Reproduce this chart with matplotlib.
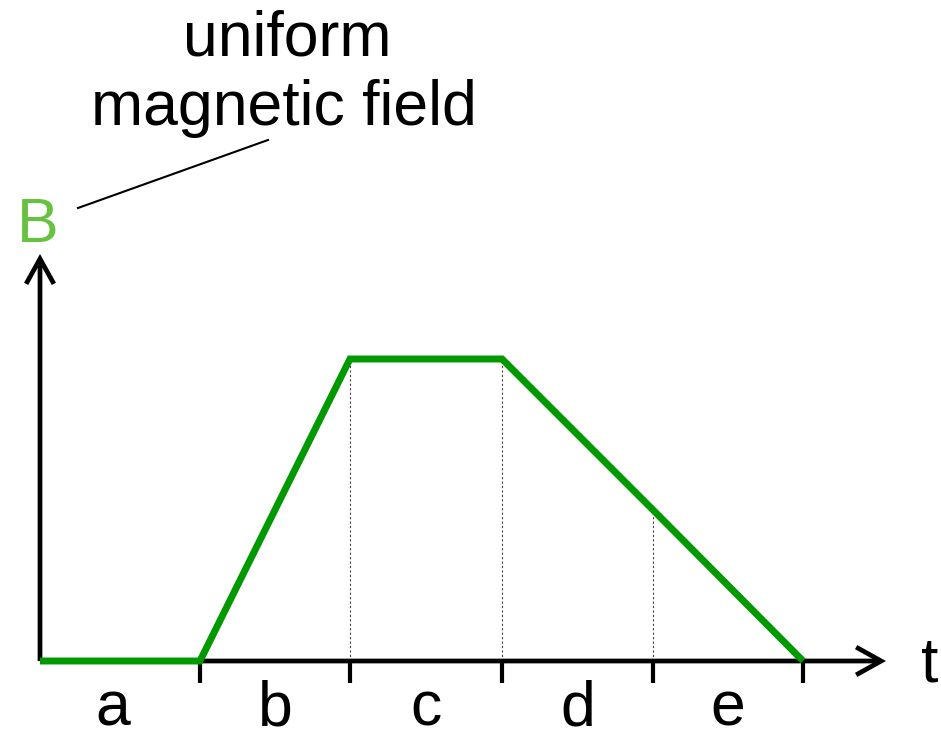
import matplotlib
matplotlib.use("Agg")
import matplotlib.pyplot as plt

# time breakpoints (interval edges) and field strength at each edge
t_edges = [0, 1.062, 2.058, 3.068, 4.071, 5.067]
b_values = [0, 0, 2, 2, 1, 0]
interval_labels = ["a", "b", "c", "d", "e"]

GREEN = "#009900"
LIGHT_GREEN = "#66c23f"
FONT = "Liberation Sans"

# pixel scale of the drawing: px per unit time / per unit field
PX_T = 150.6
PX_B = 151.0
W, H = 941, 732
X0, Y0 = 40, 661          # origin, in pixels from the top-left

fig = plt.figure(figsize=(W / 100, H / 100), dpi=100)
ax = fig.add_axes([0, 0, 1, 1])
ax.set_xlim(-X0 / PX_T, (W - X0) / PX_T)
ax.set_ylim(-(H - Y0) / PX_B, Y0 / PX_B)
ax.axis("off")


def px(x, y):
    # pixel (from top-left) -> data coords
    return (x - X0) / PX_T, (Y0 - y) / PX_B


arrow = dict(arrowstyle="->,head_length=0.9,head_width=0.5", lw=3.4,
             color="black", shrinkA=0, shrinkB=0, mutation_scale=20,
             joinstyle="miter", capstyle="butt")
ax.annotate("", xy=px(886, Y0), xytext=(0, 0), arrowprops=arrow)
ax.annotate("", xy=px(X0, 254), xytext=(0, 0), arrowprops=arrow)

# tick marks at the interval edges
tick_len = (683 - Y0) / PX_B
for t in t_edges[1:]:
    ax.plot([t, t], [0, -tick_len], color="black", lw=3, solid_capstyle="butt")

# dotted guides from the axis up to the curve
for t, b in zip(t_edges[2:5], b_values[2:5]):
    ax.plot([t, t], [0, b], color="#444444", lw=0.8, linestyle=(0, (2, 2)))

ax.plot(t_edges, b_values, color=GREEN, lw=5, solid_joinstyle="miter",
        solid_capstyle="butt", zorder=5)

# interval names, centred in each interval (first one sits a bit left)
lab_y = px(0, 726)[1]
lab_shift = [-0.05, 0, 0, 0, 0]
for i, name in enumerate(interval_labels):
    mid = (t_edges[i] + t_edges[i + 1]) / 2 + lab_shift[i]
    ax.text(mid, lab_y, name, ha="center", va="baseline", fontsize=45,
            family=FONT)

ax.text(*px(930, 682), "t", ha="center", va="baseline", fontsize=45,
        family=FONT)
ax.text(*px(38, 242), "B", ha="center", va="baseline", fontsize=45,
        family=FONT, color=LIGHT_GREEN)

ax.text(*px(287, 55), "uniform", ha="center", va="baseline", fontsize=45,
        family=FONT)
ax.text(*px(284, 125), "magnetic field", ha="center", va="baseline",
        fontsize=45, family=FONT)
x1, y1 = px(78, 208)
x2, y2 = px(268, 140)
ax.plot([x1, x2], [y1, y2], color="black", lw=1.5)

fig.savefig("out.png", dpi=100)
